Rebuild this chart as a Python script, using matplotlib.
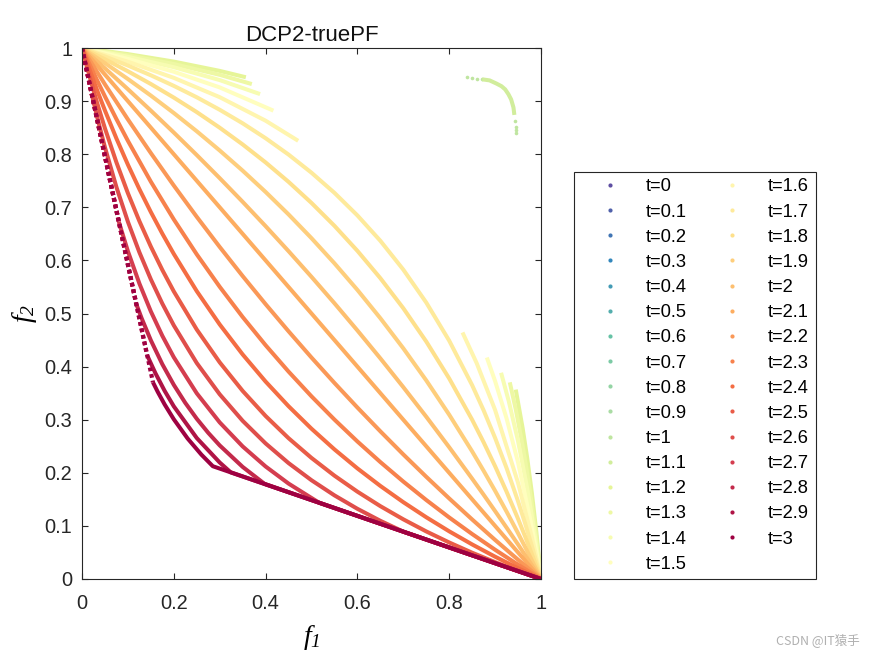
import numpy as np
import matplotlib.pyplot as plt
from matplotlib.lines import Line2D

plt.rcParams['font.family'] = ['Liberation Sans', 'DejaVu Sans']
plt.rcParams['mathtext.fontset'] = 'custom'
plt.rcParams['mathtext.it'] = 'Liberation Serif:italic'
plt.rcParams['mathtext.rm'] = 'Liberation Serif:italic'

nan = np.nan

# time steps shown in the legend
t_labels = ['0', '0.1', '0.2', '0.3', '0.4', '0.5', '0.6', '0.7', '0.8', '0.9',
            '1', '1.1', '1.2', '1.3', '1.4', '1.5', '1.6', '1.7', '1.8', '1.9',
            '2', '2.1', '2.2', '2.3', '2.4', '2.5', '2.6', '2.7', '2.8', '2.9', '3']

xticks = [0, 0.2, 0.4, 0.6, 0.8, 1]
xtick_labels = ['0', '0.2', '0.4', '0.6', '0.8', '1']
yticks = [0, 0.1, 0.2, 0.3, 0.4, 0.5, 0.6, 0.7, 0.8, 0.9, 1]
ytick_labels = ['0', '0.1', '0.2', '0.3', '0.4', '0.5', '0.6', '0.7', '0.8', '0.9', '1']

# (f1, f2) points, one list per time step
# t = 0 ... 0.9 : nothing visible
pf_t10 = [(0.838, 0.945), (0.849, 0.944), (0.860, 0.942), (0.871, 0.941),
          (0.944, 0.862), (0.945, 0.852), (0.945, 0.845), (0.946, 0.839)]
pf_t11 = [(0.872, 0.941), (0.888, 0.939), (0.903, 0.933), (0.914, 0.928), (0.922, 0.922),
          (0.929, 0.913), (0.935, 0.903), (0.940, 0.888), (0.942, 0.874)]
pf_t12 = [(0, 1), (0.1, 0.9885), (0.2, 0.9744), (0.3, 0.9569), (0.357, 0.9449), (nan, nan),
          (0.945, 0.3567), (0.96, 0.2841), (0.97, 0.2276), (0.98, 0.1627), (0.99, 0.0877), (1, 0)]
pf_t13 = [(0, 1), (0.1, 0.9864), (0.2, 0.9699), (0.3, 0.9495), (0.37, 0.9321), (nan, nan),
          (0.932, 0.3704), (0.945, 0.3194), (0.96, 0.2516), (0.97, 0.1996), (0.98, 0.1413), (0.99, 0.0753), (1, 0)]
pf_t14 = [(0, 1), (0.1, 0.9836), (0.2, 0.9639), (0.3, 0.9396), (0.388, 0.9132), (nan, nan),
          (0.913, 0.3884), (0.93, 0.3341), (0.95, 0.2597), (0.97, 0.1709), (0.98, 0.1198), (0.99, 0.0631), (1, 0)]
pf_t15 = [(0, 1), (0.1, 0.9796), (0.2, 0.9553), (0.3, 0.9258), (0.417, 0.882), (nan, nan),
          (0.882, 0.4171), (0.9, 0.3727), (0.925, 0.3024), (0.95, 0.2196), (0.98, 0.0984), (0.99, 0.0513), (1, 0)]
pf_t16 = [(0, 1), (0.1, 0.9742), (0.2, 0.9438), (0.3, 0.9074), (0.4, 0.8631), (0.471, 0.8252), (nan, nan),
          (0.829, 0.4643), (0.86, 0.4062), (0.9, 0.3183), (0.95, 0.1811), (0.98, 0.079), (0.99, 0.0407), (1, 0)]
pf_t17 = [(0, 1), (0.05, 0.9841), (0.1, 0.967), (0.15, 0.9486), (0.2, 0.9287), (0.25, 0.9072), (0.3, 0.8837),
          (0.35, 0.8582), (0.4, 0.8301), (0.45, 0.7993), (0.5, 0.7651), (0.55, 0.7272), (0.6, 0.6847),
          (0.65, 0.6369), (0.7, 0.5826), (0.75, 0.5206), (0.8, 0.4488), (0.85, 0.365), (0.875, 0.3176),
          (0.9, 0.2657), (0.925, 0.2089), (0.95, 0.1463), (0.965, 0.1057), (0.98, 0.0623), (0.99, 0.0319), (1, 0)]
pf_t18 = [(0, 1), (0.05, 0.9788), (0.1, 0.9562), (0.15, 0.9322), (0.2, 0.9066), (0.25, 0.8793), (0.3, 0.8499),
          (0.35, 0.8184), (0.4, 0.7845), (0.45, 0.7479), (0.5, 0.7082), (0.55, 0.6651), (0.6, 0.618),
          (0.65, 0.5665), (0.7, 0.5099), (0.75, 0.4472), (0.8, 0.3776), (0.85, 0.2999), (0.875, 0.2575),
          (0.9, 0.2124), (0.925, 0.1644), (0.95, 0.1133), (0.965, 0.0809), (0.98, 0.0472), (0.99, 0.0239), (1, 0)]
pf_t19 = [(0, 1), (0.05, 0.9715), (0.1, 0.9416), (0.15, 0.9104), (0.2, 0.8776), (0.25, 0.8432), (0.3, 0.807),
          (0.35, 0.769), (0.4, 0.7289), (0.45, 0.6866), (0.5, 0.6418), (0.55, 0.5945), (0.6, 0.5444),
          (0.65, 0.4911), (0.7, 0.4344), (0.75, 0.374), (0.8, 0.3094), (0.85, 0.2403), (0.875, 0.2038),
          (0.9, 0.1661), (0.925, 0.1269), (0.95, 0.0862), (0.965, 0.061), (0.98, 0.0353), (1, 0)]
pf_t20 = [(0, 1), (0.05, 0.9617), (0.1, 0.9224), (0.15, 0.8821), (0.2, 0.8408), (0.25, 0.7984), (0.3, 0.7549),
          (0.35, 0.7103), (0.4, 0.6645), (0.45, 0.6174), (0.5, 0.569), (0.55, 0.5193), (0.6, 0.4681),
          (0.65, 0.4155), (0.7, 0.3613), (0.75, 0.3056), (0.8, 0.2481), (0.85, 0.1889), (0.875, 0.1587),
          (0.9, 0.1279), (0.925, 0.0967), (0.95, 0.065), (1, 0)]
pf_t21 = [(0, 1), (0.5, 0.5), (1, 0)]
pf_t22 = [(0, 1), (0.05, 0.9315), (0.1, 0.8655), (0.15, 0.8021), (0.2, 0.741), (0.25, 0.6821), (0.3, 0.6253),
          (0.35, 0.5705), (0.4, 0.5176), (0.45, 0.4665), (0.5, 0.417), (0.55, 0.3692), (0.6, 0.3229),
          (0.65, 0.2781), (0.7, 0.2346), (0.75, 0.1925), (0.8, 0.1517), (0.85, 0.1121), (0.9, 0.0736),
          (0.95, 0.0363), (1, 0)]
pf_t23 = [(0, 1), (0.025, 0.9534), (0.05, 0.9088), (0.075, 0.8661), (0.1, 0.8252), (0.15, 0.7482),
          (0.2, 0.6772), (0.25, 0.6114), (0.3, 0.5503), (0.35, 0.4934), (0.4, 0.4403), (0.45, 0.3906),
          (0.5, 0.344), (0.55, 0.3002), (0.6, 0.259), (0.65, 0.2202), (0.7, 0.1835), (0.75, 0.1488),
          (0.8, 0.1159), (0.85, 0.0847), (0.9, 0.0551), (0.95, 0.0269), (1, 0)]
pf_t24 = [(0, 1), (0.02, 0.9508), (0.035, 0.9158), (0.05, 0.8823), (0.075, 0.8296), (0.1, 0.7803),
          (0.125, 0.7342), (0.15, 0.691), (0.175, 0.6504), (0.2, 0.6122), (0.25, 0.5421), (0.3, 0.4794),
          (0.35, 0.4229), (0.4, 0.3718), (0.45, 0.3254), (0.5, 0.283), (0.55, 0.2441), (0.6, 0.2083),
          (0.65, 0.1753), (0.7, 0.1447), (0.75, 0.1163), (0.8, 0.0898), (0.85, 0.0651), (0.9, 0.042),
          (0.95, 0.0203), (1, 0)]
pf_t25 = [(0, 1), (0.01, 0.9669), (0.02, 0.9354), (0.035, 0.8906), (0.05, 0.8487), (0.075, 0.7846),
          (0.1, 0.7266), (0.125, 0.674), (0.15, 0.626), (0.175, 0.582), (0.2, 0.5416), (0.25, 0.4698),
          (0.3, 0.408), (0.35, 0.3542), (0.4, 0.307), (0.45, 0.2652), (0.5, 0.228), (0.55, 0.1946),
          (0.6, 0.1645), (0.65, 0.1372), (0.7, 0.1124), (0.75, 0.0896), (0.8, 0.0688), (0.85, 0.0495),
          (0.9, 0.0318), (0.95, 0.0153), (1, 0)]
# from t = 2.6 the fronts run along the left constraint edge first (sparse points there)
pf_t26_edge = [(0, 1), (0.0213, 0.913)]
pf_t26 = [(0.0213, 0.913), (0.035, 0.863), (0.05, 0.8128), (0.075, 0.7381), (0.1, 0.6728), (0.125, 0.6153),
          (0.15, 0.5643), (0.175, 0.5186), (0.2, 0.4776), (0.25, 0.4067), (0.3, 0.3478), (0.35, 0.2979),
          (0.4, 0.2553), (0.45, 0.2183), (0.5, 0.186), (0.55, 0.1575), (0.6, 0.1322), (0.65, 0.1096),
          (0.701, 0.0888), (1, 0)]
pf_t27_edge = [(0, 1), (0.0801, 0.673)]
pf_t27 = [(0.0801, 0.673), (0.1, 0.6173), (0.125, 0.5565), (0.15, 0.5039), (0.175, 0.458), (0.2, 0.4176),
          (0.25, 0.3497), (0.3, 0.2949), (0.35, 0.2497), (0.4, 0.2119), (0.45, 0.1797), (0.517, 0.1434), (1, 0)]
pf_t28_edge = [(0, 1), (0.1182, 0.518)]
pf_t28 = [(0.1182, 0.518), (0.13, 0.4909), (0.15, 0.4495), (0.175, 0.4045), (0.2, 0.3656), (0.225, 0.3317),
          (0.25, 0.3018), (0.275, 0.2753), (0.3, 0.2516), (0.35, 0.2111), (0.398, 0.179), (1, 0)]
pf_t29_edge = [(0, 1), (0.1416, 0.4219)]
pf_t29 = [(0.1416, 0.4219), (0.16, 0.3875), (0.18, 0.3544), (0.2, 0.3252), (0.25, 0.2655), (0.3, 0.2194),
          (0.324, 0.2009), (1, 0)]
pf_t30_edge = [(0, 1), (0.1546, 0.3704)]
pf_t30 = [(0.1546, 0.3704), (0.165, 0.3524), (0.18, 0.3288), (0.2, 0.3008), (0.23, 0.2647), (0.26, 0.2343),
          (0.285, 0.2124), (1, 0)]

fronts = {'1': pf_t10, '1.1': pf_t11, '1.2': pf_t12, '1.3': pf_t13, '1.4': pf_t14, '1.5': pf_t15,
          '1.6': pf_t16, '1.7': pf_t17, '1.8': pf_t18, '1.9': pf_t19, '2': pf_t20, '2.1': pf_t21,
          '2.2': pf_t22, '2.3': pf_t23, '2.4': pf_t24, '2.5': pf_t25, '2.6': pf_t26, '2.7': pf_t27,
          '2.8': pf_t28, '2.9': pf_t29, '3': pf_t30}
edges = {'2.6': pf_t26_edge, '2.7': pf_t27_edge, '2.8': pf_t28_edge, '2.9': pf_t29_edge, '3': pf_t30_edge}

cmap = plt.get_cmap('Spectral_r')
colors = [cmap(i / (len(t_labels) - 1)) for i in range(len(t_labels))]

fig = plt.figure(figsize=(8.75, 6.56), dpi=100)
ax = fig.add_axes([82 / 875, 77 / 656, 459 / 875, 531 / 656])

lw = 2.9
handles = []
for lab, c in zip(t_labels, colors):
    pts = fronts.get(lab, [])
    xs = [p[0] for p in pts]
    ys = [p[1] for p in pts]
    if lab == '1':
        ax.plot(xs, ys, ls='none', marker='o', ms=2.6, mec='none', color=c)
    else:
        if lab in edges:
            ex = [p[0] for p in edges[lab]]
            ey = [p[1] for p in edges[lab]]
            ax.plot(ex, ey, color=c, lw=3.0, ls=(0, (0.9, 0.7)), dash_capstyle='butt')
        ax.plot(xs, ys, color=c, lw=lw, solid_capstyle='butt', solid_joinstyle='round')
    handles.append(Line2D([], [], ls='none', marker='o', ms=3, mec='none', color=c, label='t=' + lab))

ax.set_xlim(0, 1)
ax.set_ylim(0, 1)
ax.set_xticks(xticks)
ax.set_xticklabels(xtick_labels)
ax.set_yticks(yticks)
ax.set_yticklabels(ytick_labels)
ax.tick_params(direction='in', length=4.3, width=0.8, top=True, right=True,
               labelsize=14.4, colors='#262626')
ax.tick_params(axis='y', pad=7)
ax.tick_params(axis='x', pad=11)
for s in ax.spines.values():
    s.set_color('#262626')
    s.set_linewidth(0.8)

ax.set_title('DCP2-truePF', fontsize=16, color='#111111', pad=5)
ax.set_xlabel(r'$f_1$', fontsize=20, labelpad=7)
ax.set_ylabel(r'$f_2$', fontsize=20, labelpad=4)

fig.legend(handles=handles, ncol=2, loc='upper left', bbox_to_anchor=(574 / 875, 1 - 172 / 656),
           fontsize=13.2, frameon=True, fancybox=False, edgecolor='#262626', framealpha=1,
           borderpad=0.35, borderaxespad=0, handlelength=3.2, handletextpad=0.36,
           columnspacing=0.88, labelspacing=0.445, numpoints=1)
fig.legends[0].get_frame().set_linewidth(0.8)

fig.text(860 / 875, 1 - 640 / 656, 'CSDN @IT猿手', ha='right', va='center', fontsize=9,
         color='#b0b0b0', family=['Noto Sans CJK SC', 'DejaVu Sans'])

fig.savefig('out.png', dpi=100)
